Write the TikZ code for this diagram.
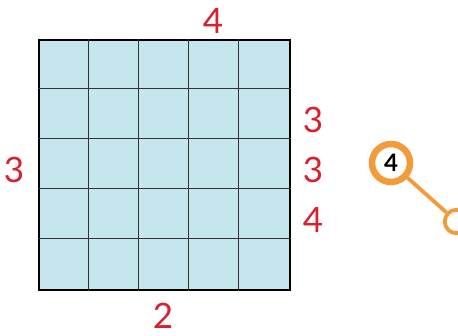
\documentclass[tikz,border=0pt]{standalone}
\usepackage{fontspec}
\setmainfont{Lato}
\definecolor{cellblue}{HTML}{C5E6EC}
\definecolor{numred}{HTML}{D7212E}
\definecolor{tagorange}{HTML}{F39A3A}

\begin{document}
\begin{tikzpicture}[
    x=1pt, y=-1pt,
    board/.style={draw=black, line width=2.4pt, fill=cellblue,
      minimum size=250.5pt, inner sep=0pt},
    cell/.style={draw=black!80, line width=1.1pt},
    num/.style={text=numred, inner sep=0pt,
      font=\fontsize{35}{40}\selectfont},
    tag/.style={circle, draw=tagorange, line width=6.5pt, fill=white,
      minimum size=38pt, inner sep=0pt,
      font=\fontsize{24}{26}\selectfont\bfseries},
    dot/.style={circle, draw=tagorange, line width=3.8pt, fill=white,
      minimum size=23.5pt, inner sep=0pt},
    link/.style={draw=tagorange, line width=3.8pt}
  ]
  \useasboundingbox (0,0) rectangle (458,336);

  % the square and its cells
  \node[board] (sq) at (164.5,165) {};
  \foreach \i in {1,...,4} {
    \draw[cell] ([xshift=\i*50.1pt]sq.north west) -- ([xshift=\i*50.1pt]sq.south west);
    \draw[cell] ([yshift=-\i*50.1pt]sq.north west) -- ([yshift=-\i*50.1pt]sq.north east);
  }

  % numbers round it
  \node[num] (ntop)  at (213,21)  {4};
  \node[num] (nleft) at (14,170)  {3};
  \node[num] (nbot)  at (163,316) {2};
  \node[num] (nr1)   at (313,120) {3};
  \node[num] (nr2)   at (313,170) {3};
  \node[num] (nr3)   at (313,220) {4};

  % marker
  \node[tag] (mark) at (391,163) {4};
  \node[dot] (end) at (456.5,221.5) {};
  \draw[link] (mark) -- (end);
\end{tikzpicture}
\end{document}
